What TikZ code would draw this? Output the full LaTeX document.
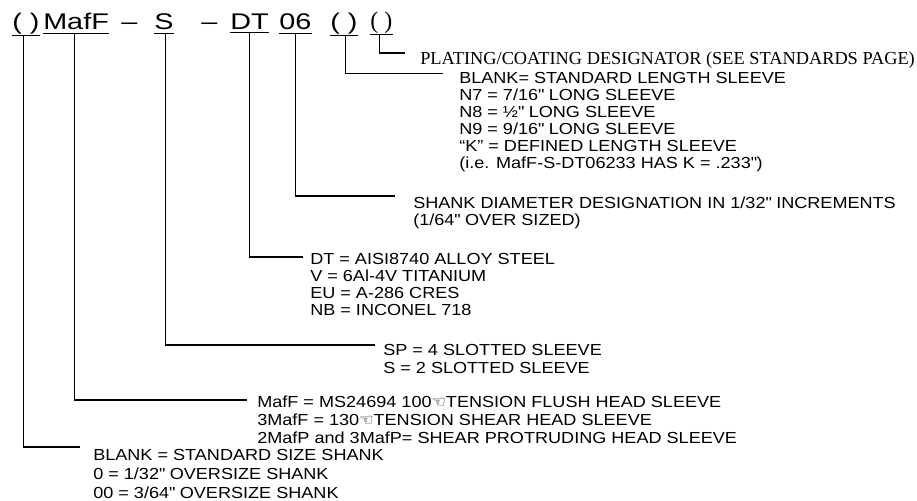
\documentclass[tikz,border=0pt]{standalone}
\usepackage{fontspec}
\setmainfont{Liberation Sans}
\newfontfamily\hdrfont{Liberation Sans}[FakeStretch=1.27]
\newfontfamily\bodyfont{Liberation Sans}[FakeStretch=1.13]
\newfontfamily\serifA{Liberation Serif}
\newfontfamily\symA{DejaVu Sans}
\lineskiplimit=-20pt
\newcommand\qd{\textquotedbl}
\begin{document}
\begin{tikzpicture}[x=0.75pt,y=-0.75pt,
  hdr/.style={font=\hdrfont\fontsize{17}{20}\selectfont, inner xsep=0pt, inner ysep=2.5pt, anchor=base west},
  hdrsmall/.style={font=\serifA\fontsize{18}{20}\selectfont, inner xsep=0pt, inner ysep=1pt, anchor=base west},
  desc/.style={font=\bodyfont\fontsize{12}{#1}\selectfont, align=left, inner sep=0pt, anchor=base west},
  desc/.default=12.7pt,
  lead/.style={line width=0.8pt},
  uline/.style={line width=0.8pt}]
\useasboundingbox (0,0) rectangle (917,500);
% header
\node[hdr, inner ysep=1pt] (p1) at (12,29.3) {( )};
\node[hdr] (maf) at (43,29.3) {MafF};
\node[hdr] (d1) at (121,29.3) {–};
\node[hdr] (s) at (154,29.3) {S};
\node[hdr] (d2) at (201,29.3) {–};
\node[hdr] (dt) at (230,29.3) {DT};
\node[hdr] (n06) at (279,29.3) {06};
\node[hdr, inner ysep=1pt] (p2) at (330,29.3) {( )};
\node[hdrsmall] (p3) at (370,28) {( )};
\foreach \n in {p1,maf,s,dt,n06,p2,p3}
  \draw[uline] (\n.south west) -- (\n.south east);
% descriptions (anchored at the baseline of the last line)
\node[desc, font=\serifA\fontsize{13.75}{11}\selectfont] (t1) at (420,64) {PLATING/COATING DESIGNATOR (SEE STANDARDS PAGE)};
\node[desc=12.68pt] (t2) at (459,168) {BLANK= STANDARD LENGTH SLEEVE\\N7 = 7/16\qd{} LONG SLEEVE\\N8 = ½\qd{} LONG SLEEVE\\N9 = 9/16\qd{} LONG SLEEVE\\“K” = DEFINED LENGTH SLEEVE\\(i.e. MafF-S-DT06233 HAS K = .233\qd)};
\node[desc=12.75pt] (t3) at (413,225) {SHANK DIAMETER DESIGNATION IN 1/32\qd{} INCREMENTS\\(1/64\qd{} OVER SIZED)};
\node[desc=12.75pt] (t4) at (310,315) {DT = AISI8740 ALLOY STEEL\\V = 6Al-4V TITANIUM\\EU = A-286 CRES\\NB = INCONEL 718};
\node[desc=13.5pt] (t5) at (383,373) {SP = 4 SLOTTED SLEEVE\\S = 2 SLOTTED SLEEVE};
\node[desc=13.5pt] (t6) at (257,443) {MafF = MS24694 100{\symA ☜}TENSION FLUSH HEAD SLEEVE\\3MafF = 130{\symA ☜}TENSION SHEAR HEAD SLEEVE\\2MafP and 3MafP= SHEAR PROTRUDING HEAD SLEEVE};
\node[desc=14.25pt] (t7) at (93,498) {BLANK = STANDARD SIZE SHANK\\0 = 1/32\qd{} OVERSIZE SHANK\\00 = 3/64\qd{} OVERSIZE SHANK};
% leader ends
\coordinate (e1) at (405,53);
\coordinate (e2) at (443,73.5);
\coordinate (e3) at (395,196);
\coordinate (e4) at (303,257);
\coordinate (e5) at (375,345);
\coordinate (e6) at (247,400);
\coordinate (e7) at (80,447);
\draw[lead] ([xshift=-1pt]p3.south) |- (e1);
\draw[lead] ([xshift=1pt]p2.south) |- (e2);
\draw[lead] (n06.south) |- (e3);
\draw[lead] (dt.south) |- (e4);
\draw[lead] ([xshift=1pt]s.south) |- (e5);
\draw[lead] ([xshift=-1.5pt]maf.south) |- (e6);
\draw[lead] ([xshift=-1.5pt]p1.south) |- (e7);
\end{tikzpicture}
\end{document}
